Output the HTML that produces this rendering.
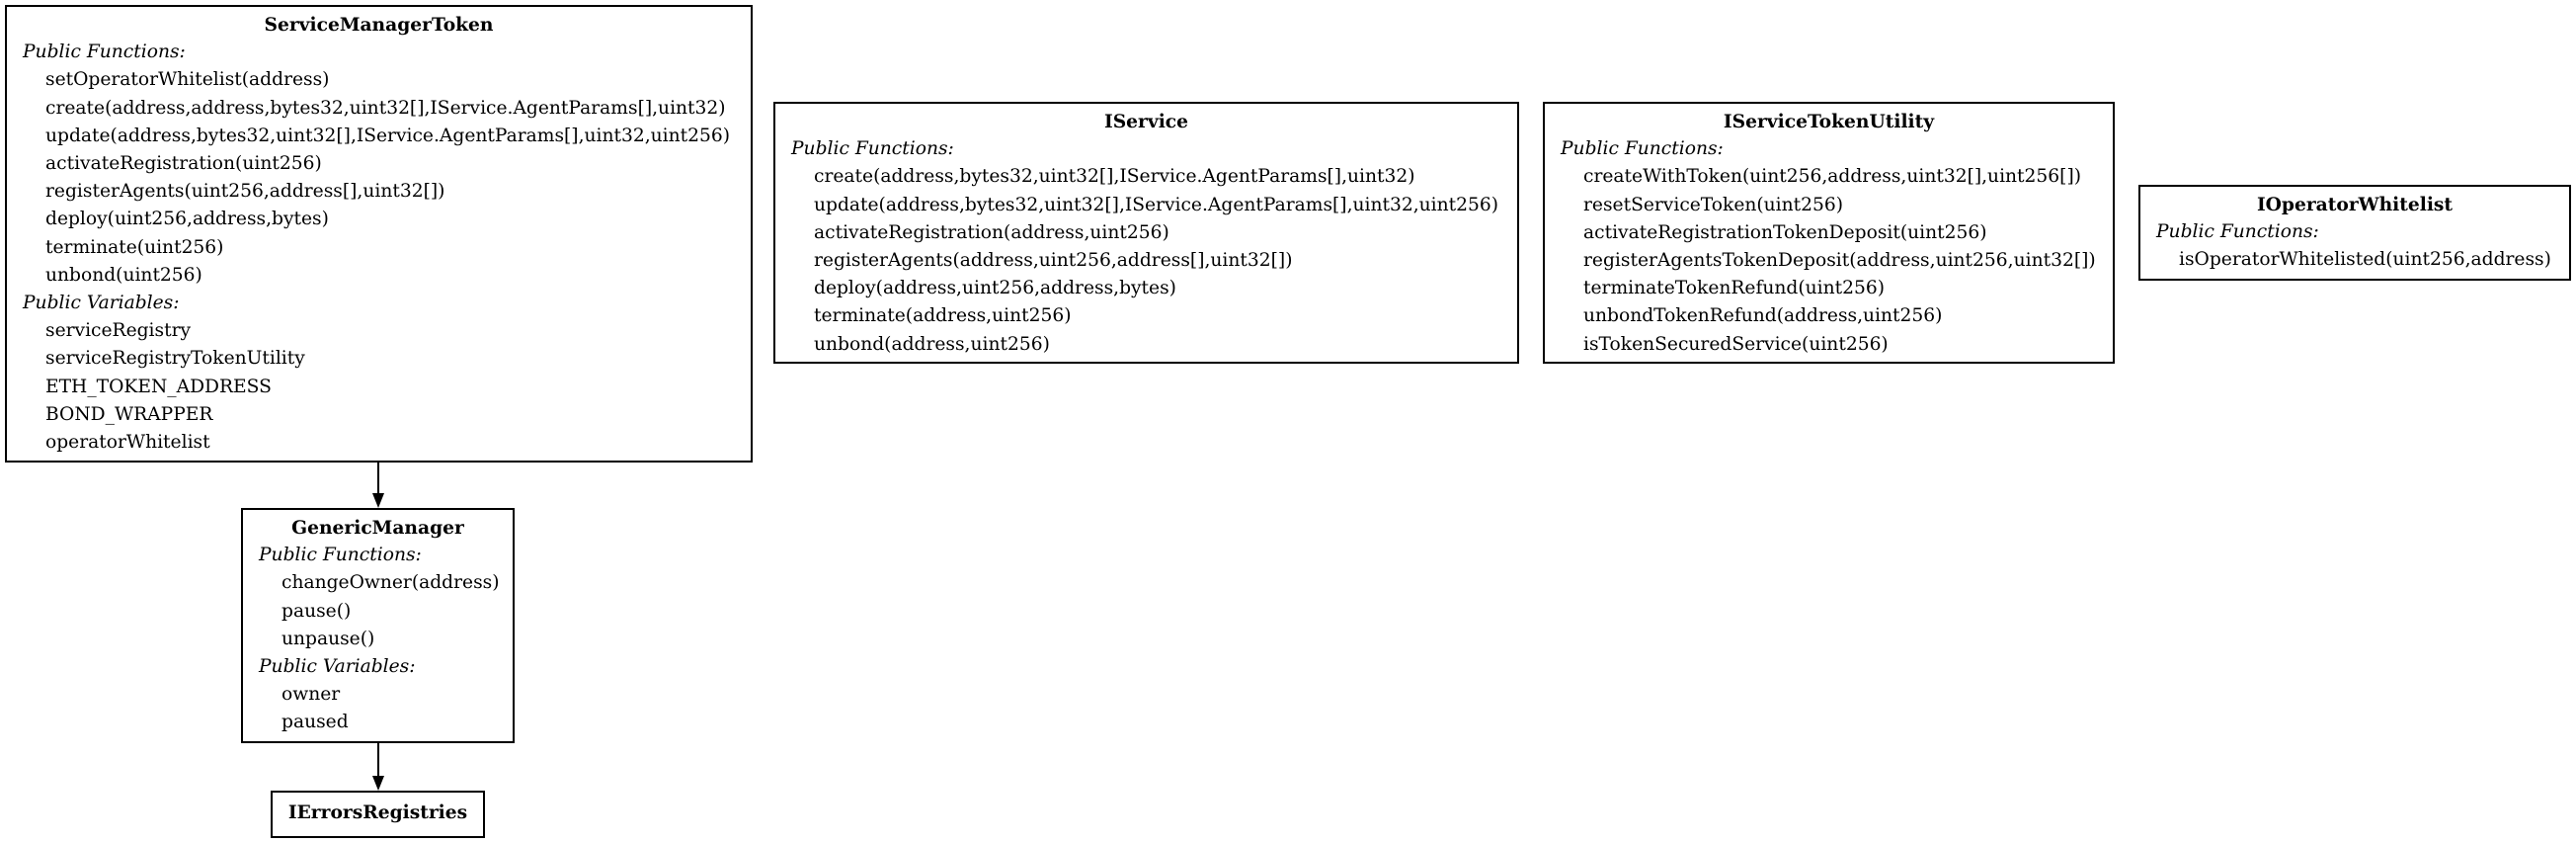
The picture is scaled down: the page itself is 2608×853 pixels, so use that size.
<!DOCTYPE html>
<html><head><meta charset="utf-8"><style>
body{margin:0;width:2608px;height:853px;background:#fff;position:relative;overflow:hidden;font-family:"DejaVu Serif","Liberation Serif",serif;font-size:18.67px;color:#000}
.b{position:absolute;border:2px solid #000;box-sizing:border-box;line-height:28.2px;padding-top:4px;white-space:nowrap}
.t{font-weight:bold;text-align:center}
.h{font-style:italic;padding-left:16px}
.i{padding-left:39px}
</style></head><body>
<div class="b" style="left:5px;top:5px;width:757px;height:463px">
<div class="t">ServiceManagerToken</div>
<div class="h">Public Functions:</div>
<div class="i">setOperatorWhitelist(address)</div>
<div class="i">create(address,address,bytes32,uint32[],IService.AgentParams[],uint32)</div>
<div class="i">update(address,bytes32,uint32[],IService.AgentParams[],uint32,uint256)</div>
<div class="i">activateRegistration(uint256)</div>
<div class="i">registerAgents(uint256,address[],uint32[])</div>
<div class="i">deploy(uint256,address,bytes)</div>
<div class="i">terminate(uint256)</div>
<div class="i">unbond(uint256)</div>
<div class="h">Public Variables:</div>
<div class="i">serviceRegistry</div>
<div class="i">serviceRegistryTokenUtility</div>
<div class="i">ETH_TOKEN_ADDRESS</div>
<div class="i">BOND_WRAPPER</div>
<div class="i">operatorWhitelist</div>
</div>
<div class="b" style="left:783px;top:103px;width:755px;height:265px">
<div class="t">IService</div>
<div class="h">Public Functions:</div>
<div class="i">create(address,bytes32,uint32[],IService.AgentParams[],uint32)</div>
<div class="i">update(address,bytes32,uint32[],IService.AgentParams[],uint32,uint256)</div>
<div class="i">activateRegistration(address,uint256)</div>
<div class="i">registerAgents(address,uint256,address[],uint32[])</div>
<div class="i">deploy(address,uint256,address,bytes)</div>
<div class="i">terminate(address,uint256)</div>
<div class="i">unbond(address,uint256)</div>
</div>
<div class="b" style="left:1562px;top:103px;width:579px;height:265px">
<div class="t">IServiceTokenUtility</div>
<div class="h">Public Functions:</div>
<div class="i">createWithToken(uint256,address,uint32[],uint256[])</div>
<div class="i">resetServiceToken(uint256)</div>
<div class="i">activateRegistrationTokenDeposit(uint256)</div>
<div class="i">registerAgentsTokenDeposit(address,uint256,uint32[])</div>
<div class="i">terminateTokenRefund(uint256)</div>
<div class="i">unbondTokenRefund(address,uint256)</div>
<div class="i">isTokenSecuredService(uint256)</div>
</div>
<div class="b" style="left:2165px;top:187px;width:438px;height:97px">
<div class="t">IOperatorWhitelist</div>
<div class="h">Public Functions:</div>
<div class="i">isOperatorWhitelisted(uint256,address)</div>
</div>
<div class="b" style="left:244px;top:514px;width:277px;height:238px">
<div class="t">GenericManager</div>
<div class="h">Public Functions:</div>
<div class="i">changeOwner(address)</div>
<div class="i">pause()</div>
<div class="i">unpause()</div>
<div class="h">Public Variables:</div>
<div class="i">owner</div>
<div class="i">paused</div>
</div>
<div class="b" style="left:274px;top:800px;width:217px;height:48px;line-height:40px;padding-top:0">
<div class="t">IErrorsRegistries</div>
</div>
<svg style="position:absolute;left:0;top:0" width="2608" height="853">
<line x1="383" y1="467" x2="383" y2="500" stroke="#000" stroke-width="2"/>
<polygon points="377,499 389,499 383,514" fill="#000"/>
<line x1="383" y1="752" x2="383" y2="786" stroke="#000" stroke-width="2"/>
<polygon points="377,785 389,785 383,800" fill="#000"/>
</svg>
</body></html>
